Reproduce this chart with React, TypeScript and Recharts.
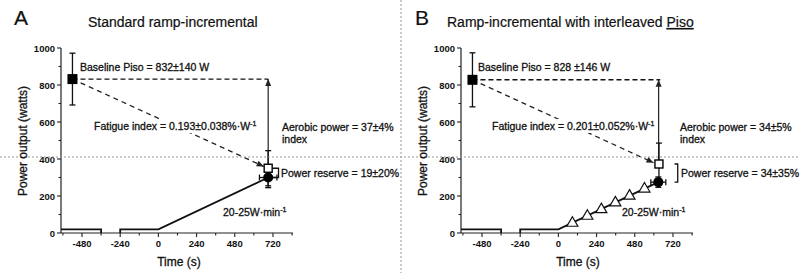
import React from 'react';
import { ComposedChart, Line, Scatter, XAxis, YAxis, ErrorBar } from 'recharts';

const FONT = '"Liberation Sans", Arial, Helvetica, sans-serif';

const xTicks = [-600, -480, -360, -240, -120, 0, 120, 240, 360, 480, 600, 720, 840];
const xTickLabels = [-480, -240, 0, 240, 480, 720];
const yTicks = [0, 100, 200, 300, 400, 500, 600, 700, 800, 900, 1000];
const yTickLabels = [0, 200, 400, 600, 800, 1000];

// A - standard ramp-incremental
const baselineA = [{ x: -540, y: 832, ey: 140 }];
const endPisoA = [{ x: 690, y: 350, ey: 95 }];
const peakA = [{ x: 690, y: 300, ex: 55, ey: 55 }];
const warmupA = [{ x: -612, y: 20 }, { x: -360, y: 20 }, { x: -360, y: 0 }];
const rampA = [{ x: -240, y: 0 }, { x: -240, y: 20 }, { x: 0, y: 20 }, { x: 690, y: 300 }];
const levelA = [{ x: -540, y: 832 }, { x: 690, y: 832 }];
const fatigueA = [{ x: -540, y: 832 }, { x: 662, y: 360 }];
const aerobicA = [{ x: 690, y: 350 }, { x: 690, y: 832 }];
const reserveA = [{ x: 718, y: 350 }, { x: 755, y: 350 }, { x: 755, y: 300 }, { x: 718, y: 300 }];

// B - ramp with interleaved Piso
const baselineB = [{ x: -540, y: 828, ey: 146 }];
const endPisoB = [{ x: 632, y: 373, ey: 113 }];
const peakB = [{ x: 628, y: 275, ex: 47, ey: 28 }];
const stepsB = [
  { x: 88, y: 58 }, { x: 182, y: 96 }, { x: 270, y: 132 },
  { x: 358, y: 168 }, { x: 447, y: 205 }, { x: 541, y: 243 },
];
const warmupB = [{ x: -612, y: 20 }, { x: -360, y: 20 }, { x: -360, y: 0 }];
const rampB = [{ x: -240, y: 0 }, { x: -240, y: 20 }, { x: 0, y: 20 }, { x: 628, y: 275 }];
const levelB = [{ x: -540, y: 828 }, { x: 640, y: 828 }];
const fatigueB = [{ x: -540, y: 828 }, { x: 598, y: 380 }];
const aerobicB = [{ x: 630, y: 373 }, { x: 630, y: 828 }];
const reserveB = [{ x: 730, y: 373 }, { x: 750, y: 373 }, { x: 750, y: 275 }, { x: 730, y: 275 }];

const XTick = (p: any) => {
  const v = p.payload.value;
  const major = xTickLabels.includes(v);
  return (
    <g>
      <line x1={p.x} x2={p.x} y1={p.y} y2={p.y + (major ? 4 : 2.5)} stroke="#222" strokeWidth={1.1} />
      {major && (
        <text x={p.x} y={p.y + 14} textAnchor="middle" fontSize={9.5} fontWeight="bold" fill="#111" fontFamily={FONT}>
          {v}
        </text>
      )}
    </g>
  );
};

const YTick = (p: any) => {
  const v = p.payload.value;
  const major = yTickLabels.includes(v);
  return (
    <g>
      <line x1={p.x - (major ? 4 : 2.5)} x2={p.x} y1={p.y} y2={p.y} stroke="#222" strokeWidth={1.1} />
      {major && (
        <text x={p.x - 6} y={p.y + 3.5} textAnchor="end" fontSize={9.5} fontWeight="bold" fill="#111" fontFamily={FONT}>
          {v}
        </text>
      )}
    </g>
  );
};

// arrowhead on the last point of a line, pointing along its last segment
const arrowHead = (p: any) => {
  const { cx, cy, index, points } = p;
  if (!points || index !== points.length - 1) return <g key={`ah-${index}`} />;
  const prev = points[index - 1];
  const ang = (Math.atan2(cy - prev.y, cx - prev.x) * 180) / Math.PI;
  return (
    <polygon
      key={`ah-${index}`}
      points="0,0 -7,-3 -7,3"
      transform={`translate(${cx},${cy}) rotate(${ang})`}
      fill="#222"
    />
  );
};

const filledSquare = (p: any) => <rect x={p.cx - 5} y={p.cy - 5} width={10} height={10} fill="#000" />;
const openSquare = (p: any) => (
  <rect x={p.cx - 4} y={p.cy - 4} width={8} height={8} fill="#fff" stroke="#000" strokeWidth={1.4} />
);
const filledCircle = (p: any) => <circle cx={p.cx} cy={p.cy} r={5} fill="#000" />;
const openTriangle = (p: any) => (
  <path
    d={`M${p.cx},${p.cy - 5.5} L${p.cx + 5.5},${p.cy + 4} L${p.cx - 5.5},${p.cy + 4} Z`}
    fill="#fff"
    stroke="#111"
    strokeWidth={1.2}
  />
);

function Panel(props: any) {
  const { left, warmup, ramp, level, fatigue, aerobic, reserve, baseline, endPiso, peak, steps } = props;
  return (
    <ComposedChart
      width={400}
      height={273}
      margin={{ top: 48, right: 107, bottom: 0, left: 0 }}
      style={{ position: 'absolute', left, top: 0 }}
    >
      <XAxis
        dataKey="x"
        type="number"
        domain={[-612, 846]}
        ticks={xTicks}
        interval={0}
        tickSize={0}
        tickMargin={0}
        tickLine={false}
        tick={(t: any) => <XTick {...t} />}
        axisLine={{ stroke: '#222', strokeWidth: 1.2 }}
        height={40}
        allowDataOverflow
      />
      <YAxis
        dataKey="y"
        type="number"
        domain={[0, 1000]}
        ticks={yTicks}
        interval={0}
        tickSize={0}
        tickMargin={0}
        tickLine={false}
        tick={(t: any) => <YTick {...t} />}
        axisLine={{ stroke: '#222', strokeWidth: 1.2 }}
        width={61}
        allowDataOverflow
      />
      <Line data={warmup} dataKey="y" stroke="#111" strokeWidth={1.8} dot={false} isAnimationActive={false} />
      <Line data={ramp} dataKey="y" stroke="#111" strokeWidth={1.8} dot={false} isAnimationActive={false} />
      <Line data={level} dataKey="y" stroke="#111" strokeWidth={1.4} strokeDasharray="5 3" dot={false} isAnimationActive={false} />
      <Line data={fatigue} dataKey="y" stroke="#222" strokeWidth={1.3} strokeDasharray="5 4" dot={arrowHead} isAnimationActive={false} />
      <Line data={aerobic} dataKey="y" stroke="#222" strokeWidth={1.2} dot={arrowHead} isAnimationActive={false} />
      <Line data={reserve} dataKey="y" stroke="#111" strokeWidth={1.3} dot={false} isAnimationActive={false} />
      {steps && <Scatter data={steps} shape={openTriangle} isAnimationActive={false} />}
      <Scatter data={baseline} shape={filledSquare} isAnimationActive={false}>
        <ErrorBar dataKey="ey" direction="y" width={3} stroke="#111" strokeWidth={1.3} />
      </Scatter>
      <Scatter data={peak} shape={filledCircle} isAnimationActive={false}>
        <ErrorBar dataKey="ey" direction="y" width={3} stroke="#111" strokeWidth={1.3} />
        <ErrorBar dataKey="ex" direction="x" width={3} stroke="#111" strokeWidth={1.3} />
      </Scatter>
      <Scatter data={endPiso} shape={openSquare} isAnimationActive={false}>
        <ErrorBar dataKey="ey" direction="y" width={3} stroke="#111" strokeWidth={1.3} />
      </Scatter>
    </ComposedChart>
  );
}

const txt = { fontFamily: FONT, fill: '#111', stroke: '#111', strokeWidth: 0.3 };

export default function App() {
  return (
    <div style={{ position: 'absolute', top: 0, left: 0, width: 800, height: 273, background: '#fff', fontFamily: FONT }}>
      <Panel
        left={0}
        warmup={warmupA}
        ramp={rampA}
        level={levelA}
        fatigue={fatigueA}
        aerobic={aerobicA}
        reserve={reserveA}
        baseline={baselineA}
        endPiso={endPisoA}
        peak={peakA}
      />
      <Panel
        left={400}
        warmup={warmupB}
        ramp={rampB}
        level={levelB}
        fatigue={fatigueB}
        aerobic={aerobicB}
        reserve={reserveB}
        baseline={baselineB}
        endPiso={endPisoB}
        peak={peakB}
        steps={stepsB}
      />
      <svg width={800} height={273} style={{ position: 'absolute', top: 0, left: 0, pointerEvents: 'none' }}>
        <line x1={0} x2={800} y1={157} y2={157} stroke="#999" strokeWidth={1} strokeDasharray="2 2" />
        <line x1={401} x2={401} y1={0} y2={273} stroke="#999" strokeWidth={1} strokeDasharray="2 2" />

        {/* panel A */}
        <text x={14} y={25} fontSize={21} {...txt} strokeWidth={0.2}>A</text>
        <text x={88} y={27} fontSize={14} {...txt} strokeWidth={0.2}>Standard ramp-incremental</text>
        <text x={27} y={141} fontSize={12} textAnchor="middle" transform="rotate(-90 27 141)" {...txt}>
          Power output (watts)
        </text>
        <text x={179} y={266} fontSize={12} textAnchor="middle" {...txt}>Time (s)</text>
        <text x={80} y={71} fontSize={10.5} {...txt}>Baseline Piso = 832±140 W</text>
        <rect x={92} y={119} width={166} height={14} fill="#fff" />
        <text x={94} y={130} fontSize={10.5} {...txt}>
          Fatigue index = 0.193±0.038%·W<tspan dy={-4} fontSize={7}>-1</tspan>
        </text>
        <text x={282} y={131} fontSize={10.5} {...txt}>Aerobic power = 37±4%</text>
        <text x={282} y={143} fontSize={10.5} {...txt}>index</text>
        <text x={281} y={177} fontSize={10.5} {...txt}>Power reserve = 19±20%</text>
        <text x={223} y={216} fontSize={10.5} {...txt}>
          20-25W·min<tspan dy={-4} fontSize={7}>-1</tspan>
        </text>

        {/* panel B */}
        <text x={415} y={25} fontSize={21} {...txt} strokeWidth={0.2}>B</text>
        <text x={447} y={27} fontSize={14} {...txt} strokeWidth={0.2}>
          Ramp-incremental with interleaved <tspan textDecoration="underline">Piso</tspan>
        </text>
        <text x={427} y={141} fontSize={12} textAnchor="middle" transform="rotate(-90 427 141)" {...txt}>
          Power output (watts)
        </text>
        <text x={578} y={266} fontSize={12} textAnchor="middle" {...txt}>Time (s)</text>
        <text x={478} y={71} fontSize={10.5} {...txt}>Baseline Piso = 828 ±146 W</text>
        <rect x={490} y={119} width={164} height={14} fill="#fff" />
        <text x={492} y={130} fontSize={10.5} {...txt}>
          Fatigue index = 0.201±0.052%·W<tspan dy={-4} fontSize={7}>-1</tspan>
        </text>
        <text x={680} y={131} fontSize={10.5} {...txt}>Aerobic power = 34±5%</text>
        <text x={680} y={143} fontSize={10.5} {...txt}>index</text>
        <text x={681} y={177} fontSize={10.5} {...txt}>Power reserve = 34±35%</text>
        <text x={622} y={216} fontSize={10.5} {...txt}>
          20-25W·min<tspan dy={-4} fontSize={7}>-1</tspan>
        </text>
      </svg>
    </div>
  );
}
